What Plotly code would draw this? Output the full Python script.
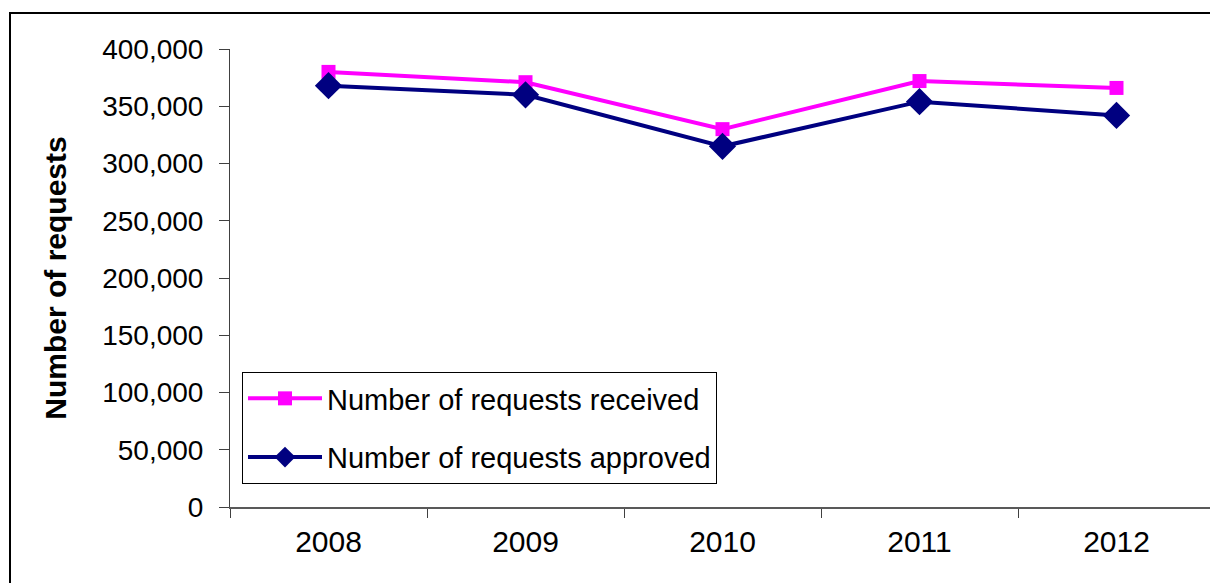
import plotly.graph_objects as go

years = ["2008", "2009", "2010", "2011", "2012"]
received = [380000, 371000, 330000, 372000, 366000]
approved = [368000, 360000, 315000, 354000, 342000]
y_tick_vals = [0, 50000, 100000, 150000, 200000, 250000, 300000, 350000, 400000]

FONT = "Arial, 'Liberation Sans', sans-serif"

fig = go.Figure()
fig.add_trace(go.Scatter(
    x=years, y=received, name="Number of requests received",
    mode="lines+markers", legendgroup="a",
    line=dict(color="#FF00FF", width=4),
    marker=dict(symbol="square", size=14, color="#FF00FF"),
))
fig.add_trace(go.Scatter(
    x=years, y=approved, name="Number of requests approved",
    mode="lines+markers", legendgroup="b",
    line=dict(color="#000080", width=4),
    marker=dict(symbol="diamond", size=21, color="#000080"),
))

OFF = 8  # page body margin
PAGE_W, PAGE_H = 1218, 583
W, H = PAGE_W - OFF, PAGE_H - OFF
# plot area in page coordinates
PX0, PX1, PY0, PY1 = 230, 1215, 49, 507
L = PX0 - OFF
T = PY0 - OFF
R = PAGE_W - PX1
B = PAGE_H - PY1
pw = PX1 - PX0
ph = PY1 - PY0

def px_x(p):
    return (p - PX0) / pw

def px_y(p):
    return (PY1 - p) / ph

fig.update_layout(
    width=W, height=H,
    margin=dict(l=L, r=R, t=T, b=B, autoexpand=False),
    paper_bgcolor="white", plot_bgcolor="white",
    font=dict(family=FONT, color="black"),
    showlegend=True,
    legend=dict(
        x=px_x(242), y=px_y(372), xanchor="left", yanchor="top",
        bgcolor="white", bordercolor="black", borderwidth=1,
        font=dict(size=29, family=FONT, color="black"),
        traceorder="grouped", tracegroupgap=18, itemwidth=74,
    ),
    xaxis=dict(
        type="category", range=[-0.5, 4.5],
        showgrid=False, zeroline=False,
        showline=True, linecolor="#595959", linewidth=2,
        ticks="outside", tickson="boundaries", ticklen=9, tickcolor="#404040",
        tickfont=dict(size=30, family=FONT, color="black"),
        ticklabelstandoff=7,
    ),
    yaxis=dict(
        range=[0, 400000], tickvals=y_tick_vals, tickformat=",d",
        showgrid=False, zeroline=False,
        showline=True, linecolor="#404040", linewidth=1,
        ticks="outside", ticklen=10, tickcolor="#404040",
        tickfont=dict(size=28, family=FONT, color="black"),
        ticklabelstandoff=10,
        title=dict(text="<b>Number of requests</b>", font=dict(size=30, family=FONT, color="black"), standoff=26),
    ),
    shapes=[dict(
        type="rect", xref="paper", yref="paper",
        x0=px_x(10), x1=px_x(1260), y0=px_y(620), y1=px_y(13),
        line=dict(color="black", width=2), fillcolor="rgba(0,0,0,0)", layer="below",
    )],
)

fig.write_html("out.html")
